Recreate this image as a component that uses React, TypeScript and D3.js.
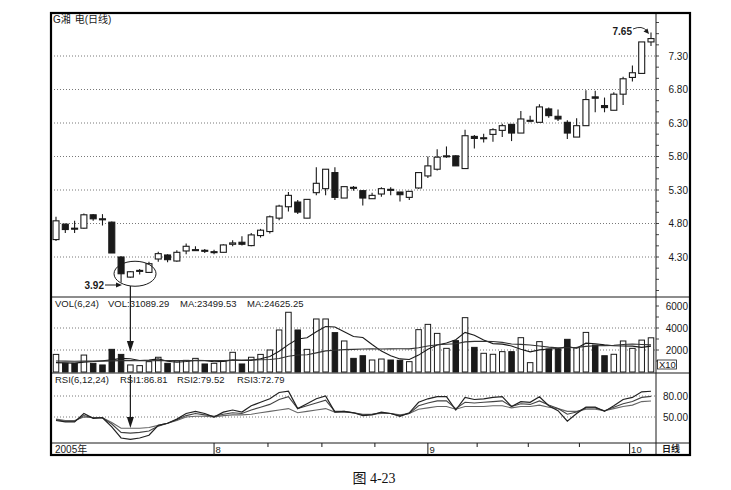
import * as d3 from "d3";

// daily candles, G湘电, Jul - Oct 2005
const OPEN = [4.56,4.79,4.73,4.73,4.93,4.87,4.82,4.30,4.00,4.09,4.07,4.27,4.33,4.24,4.39,4.40,4.40,4.37,4.37,4.49,4.52,4.47,4.62,4.68,4.88,5.05,5.12,4.88,5.26,5.32,5.56,5.18,5.34,5.29,5.17,5.24,5.31,5.27,5.19,5.33,5.51,5.61,5.80,5.81,5.62,6.10,6.07,6.13,6.19,6.28,6.15,6.33,6.31,6.51,6.40,6.31,6.09,6.26,6.69,6.56,6.49,6.73,6.98,7.04,7.51];
const HIGH = [4.90,4.80,4.84,4.95,4.94,4.94,4.83,4.31,4.09,4.12,4.23,4.38,4.34,4.40,4.50,4.46,4.42,4.41,4.49,4.55,4.61,4.66,4.72,4.92,5.08,5.27,5.15,5.16,5.64,5.61,5.64,5.35,5.36,5.30,5.26,5.34,5.34,5.27,5.28,5.57,5.80,5.91,5.95,5.82,6.20,6.12,6.14,6.22,6.29,6.28,6.48,6.41,6.58,6.53,6.50,6.34,6.37,6.79,6.78,6.68,6.76,6.99,7.16,7.51,7.65];
const LOW = [4.54,4.66,4.66,4.72,4.84,4.77,4.36,3.92,3.99,4.04,4.06,4.23,4.22,4.23,4.34,4.40,4.36,4.34,4.37,4.46,4.47,4.46,4.59,4.65,4.85,4.98,4.94,4.88,5.22,5.22,5.15,5.18,5.29,5.07,5.17,5.20,5.22,5.13,5.15,5.32,5.48,5.59,5.78,5.66,5.62,5.92,6.01,6.02,6.09,6.03,6.15,6.31,6.31,6.38,6.33,6.06,6.09,6.26,6.46,6.46,6.49,6.57,6.92,7.04,7.45];
const CLOSE = [4.84,4.71,4.72,4.93,4.87,4.86,4.36,4.05,4.08,4.10,4.20,4.35,4.26,4.37,4.46,4.41,4.39,4.38,4.48,4.51,4.49,4.63,4.70,4.90,5.06,5.22,4.97,5.16,5.40,5.61,5.19,5.35,5.33,5.18,5.22,5.32,5.30,5.23,5.28,5.56,5.66,5.79,5.81,5.66,6.11,6.07,6.08,6.20,6.26,6.15,6.36,6.34,6.54,6.41,6.36,6.15,6.26,6.65,6.67,6.53,6.73,6.96,7.05,7.51,7.56];

// volume (axis units, x10)
const VOLUME = [1600,790,790,1540,790,640,2060,1600,640,580,940,1340,790,1000,1060,1240,730,790,1000,1790,730,1340,1600,2000,3820,5430,3820,2060,4820,4820,3580,2820,1240,1480,1090,1180,1090,1060,940,3850,4330,3510,2150,2850,4940,2240,1700,1610,1850,1850,3120,850,2760,2090,2090,2970,2210,3600,2450,1480,1610,2820,2150,2900,3110];
const VOL_MA6 = [850,830,810,900,950,1025,1100,1240,1210,1050,1080,1190,980,880,950,1060,1030,935,970,1100,1050,1060,1210,1410,1880,2490,3000,3120,3660,4130,4090,3650,3220,3130,2500,1900,1480,1190,1140,1535,2075,2460,2640,2940,3600,3340,2900,2580,2530,2365,2060,1830,2010,2090,2130,2310,2160,2620,2570,2470,2390,2360,2350,2235,2350];
const VOL_MA24 = [1000,990,980,990,990,985,1010,1030,1030,1025,1020,1030,1030,1030,1035,1040,1040,1045,1050,1070,1080,1100,1120,1140,1230,1430,1550,1575,1740,1920,1980,2030,2060,2090,2100,2090,2105,2110,2100,2210,2360,2475,2520,2570,2740,2780,2785,2770,2690,2540,2510,2460,2370,2260,2195,2200,2240,2330,2390,2400,2420,2495,2545,2505,2463];

// RSI(6,12,24)
const RSI1 = [45,43,43,55,48,49,36,20,18,20,24,38,41,47,55,58,55,50,57,60,57,66,71,76,85,87,62,69,76,80,57,58,56,52,53,57,55,51,56,71,76,79,79,60,78,75,76,78,79,65,72,71,79,66,59,44,55,64,64,58,66,75,78,86,86.81];
const RSI2 = [46,44,44,52,49,49,40,28,27,28,30,37,41,46,52,55,53,51,54,56,55,60,64,68,75,79,62,66,70,74,58,58,56,53,54,56,55,52,55,66,70,73,73,62,71,70,71,72,73,65,69,68,73,67,62,54,57,63,63,59,64,69,72,78,79.52];
const RSI3 = [47,45,45,50,49,49,42,34,34,34,35,38,41,45,50,51,51,50,52,53,53,54,56,58,60,62,56,58,60,62,57,57,56,54,54,55,55,53,55,61,63,65,65,61,65,65,65,66,66,63,65,65,67,64,62,58,58,61,61,59,62,65,67,72,72.79];

const PRICE_TICKS = [7.3, 6.8, 6.3, 5.8, 5.3, 4.8, 4.3];
const VOL_TICKS = [6000, 4000, 2000];
const RSI_TICKS = [80, 50];
const MONTH_INDEX = [17, 40, 61.7];
const MONTH_LABELS = ["8", "9", "10"];
const WEEK_TICKS = [22.8, 28.6, 34.3, 45.3, 50.8, 56.3];

const W = 731, H = 490;
const L = 51, R = 690, T = 13, B = 455, AX = 656;
const P_BOT = 297, V_BOT = 373, R_BOT = 443;
const FONT = "'Liberation Sans', Arial, 'Noto Sans CJK SC', sans-serif";
const INK = "#1a1a1a";

export default function App() {
  const n = CLOSE.length;
  const x = d3.scaleLinear().domain([0, n - 1]).range([56, 651]);
  const yP = d3.scaleLinear().domain([4.3, 7.3]).range([257, 56]);
  const yV = d3.scaleLinear().domain([0, 6000]).range([372, 306]);
  const yR = d3.scaleLinear().domain([50, 80]).range([417, 396]);

  const volLine = (arr: number[]) =>
    d3.line<number>().x((_, i) => x(i)).y((d) => yV(d))(arr) as string;
  const rsiLine = (arr: number[]) =>
    d3.line<number>().x((_, i) => x(i)).y((d) => yR(d))(arr) as string;

  const minorPrice = d3.range(-3, 22).map((k) => 4.3 + (k * 0.5) / 3).filter((p) => yP(p) > T + 4 && yP(p) < P_BOT - 2);
  const minorVol = d3.range(1000, 7000, 1000).filter((v) => yV(v) > P_BOT + 3);

  const bw = 6;
  const vbw = 5.5;

  return (
    <svg width={W} height={H} style={{ position: "absolute", left: 0, top: 0, background: "#fff" }} fontFamily={FONT}>
      <rect x={0} y={0} width={W} height={H} fill="#fff" />

      {/* grid */}
      {PRICE_TICKS.map((p) => (
        <line key={p} x1={L} x2={AX} y1={yP(p)} y2={yP(p)} stroke="#555" strokeWidth={0.8} strokeDasharray="1,2" />
      ))}
      {[4000, 2000].map((v) => (
        <line key={v} x1={L} x2={AX} y1={yV(v)} y2={yV(v)} stroke="#555" strokeWidth={0.8} strokeDasharray="1,2" />
      ))}
      {RSI_TICKS.map((r) => (
        <line key={r} x1={L} x2={AX} y1={yR(r)} y2={yR(r)} stroke="#555" strokeWidth={0.8} strokeDasharray="1,2" />
      ))}

      {/* candles */}
      {CLOSE.map((c, i) => {
        const o = OPEN[i];
        const up = c >= o;
        const top = yP(Math.max(o, c));
        const h = Math.max(1, yP(Math.min(o, c)) - top);
        const cx = x(i);
        return (
          <g key={i}>
            <line x1={cx} x2={cx} y1={yP(HIGH[i])} y2={yP(LOW[i])} stroke={INK} strokeWidth={1.1} />
            <rect x={cx - bw / 2} y={top} width={bw} height={h} fill={up ? "#fff" : INK} stroke={INK} strokeWidth={1.1} />
          </g>
        );
      })}

      {/* volume */}
      {VOLUME.map((v, i) => {
        const up = CLOSE[i] >= OPEN[i];
        return (
          <rect key={i} x={x(i) - vbw / 2} y={yV(v)} width={vbw} height={yV(0) - yV(v)} fill={up ? "#fff" : INK} stroke={INK} strokeWidth={1} />
        );
      })}
      <path d={volLine(VOL_MA6)} fill="none" stroke={INK} strokeWidth={1.1} />
      <path d={volLine(VOL_MA24)} fill="none" stroke="#333" strokeWidth={1.1} />

      {/* RSI */}
      <path d={rsiLine(RSI3)} fill="none" stroke="#666" strokeWidth={1.1} />
      <path d={rsiLine(RSI2)} fill="none" stroke="#444" strokeWidth={1.1} />
      <path d={rsiLine(RSI1)} fill="none" stroke="#222" strokeWidth={1.2} />

      {/* panel separators and frame */}
      <line x1={L} x2={R} y1={P_BOT} y2={P_BOT} stroke={INK} strokeWidth={1} />
      <line x1={L} x2={R} y1={V_BOT} y2={V_BOT} stroke={INK} strokeWidth={1} />
      <line x1={L} x2={R} y1={R_BOT} y2={R_BOT} stroke={INK} strokeWidth={1} />
      <line x1={AX} x2={AX} y1={T} y2={B} stroke={INK} strokeWidth={1} />
      <rect x={L} y={T} width={R - L} height={B - T} fill="none" stroke="#000" strokeWidth={2.2} />

      {/* right axis */}
      {minorPrice.map((p, k) => (
        <line key={k} x1={AX} x2={AX + 3} y1={yP(p)} y2={yP(p)} stroke={INK} strokeWidth={0.8} />
      ))}
      {PRICE_TICKS.map((p) => (
        <text key={p} x={688} y={yP(p) + 3.5} fontSize={10} textAnchor="end" fill={INK}>{p.toFixed(2)}</text>
      ))}
      {minorVol.map((v) => (
        <line key={v} x1={AX} x2={AX + 3} y1={yV(v)} y2={yV(v)} stroke={INK} strokeWidth={0.8} />
      ))}
      {VOL_TICKS.map((v) => (
        <text key={v} x={688} y={yV(v) + 3.5} fontSize={10} textAnchor="end" fill={INK}>{v}</text>
      ))}
      <rect x={657.5} y={360} width={19} height={9} fill="#fff" stroke={INK} strokeWidth={0.8} />
      <text x={659} y={368} fontSize={9.5} fill={INK}>X10</text>
      {RSI_TICKS.map((r) => (
        <text key={r} x={688} y={yR(r) + 3.5} fontSize={10} textAnchor="end" fill={INK}>{r.toFixed(2)}</text>
      ))}
      <text x={662} y={452} fontSize={9} fontWeight={700} fill={INK}>日线</text>

      {/* date strip */}
      {MONTH_INDEX.map((mi, k) => (
        <g key={k}>
          <line x1={x(mi)} x2={x(mi)} y1={R_BOT} y2={B} stroke={INK} strokeWidth={1} />
          <text x={x(mi) + 1.5} y={453} fontSize={9.5} fill={INK}>{MONTH_LABELS[k]}</text>
        </g>
      ))}
      {WEEK_TICKS.map((wi) => (
        <line key={wi} x1={x(wi)} x2={x(wi)} y1={R_BOT} y2={R_BOT + 4} stroke={INK} strokeWidth={1} />
      ))}
      <text x={55} y={453} fontSize={10} fill={INK}>2005年</text>

      {/* headers */}
      <text x={53} y={23} fontSize={10} fill={INK}>G湘<tspan dx={4}>电(日线)</tspan></text>
      <text y={307} fontSize={9.5} fill={INK}>
        <tspan x={55}>VOL(6,24)</tspan>
        <tspan x={108}>VOL:31089.29</tspan>
        <tspan x={180}>MA:23499.53</tspan>
        <tspan x={247}>MA:24625.25</tspan>
      </text>
      <text y={383} fontSize={9.5} fill={INK}>
        <tspan x={55}>RSI(6,12,24)</tspan>
        <tspan x={120}>RSI1:86.81</tspan>
        <tspan x={177}>RSI2:79.52</tspan>
        <tspan x={237}>RSI3:72.79</tspan>
      </text>

      {/* annotations */}
      <ellipse cx={x(8.5)} cy={yP(4.05)} rx={21} ry={12.5} fill="none" stroke={INK} strokeWidth={1} />
      <text x={104} y={288.5} fontSize={10} fontWeight={700} textAnchor="end" fill={INK}>3.92</text>
      <line x1={105} x2={118} y1={285} y2={285} stroke={INK} strokeWidth={1} />
      <path d="M122,285 L116,282.5 L116,287.5 Z" fill={INK} />

      <line x1={x(8)} x2={x(8)} y1={286} y2={342} stroke={INK} strokeWidth={1.2} />
      <path d={`M${x(8)},352 L${x(8) - 3.5},341 L${x(8) + 3.5},341 Z`} fill={INK} />
      <line x1={x(8)} x2={x(8)} y1={375} y2={418} stroke={INK} strokeWidth={1.2} />
      <path d={`M${x(8)},428 L${x(8) - 3.5},417 L${x(8) + 3.5},417 Z`} fill={INK} />

      <text x={632} y={35} fontSize={10} fontWeight={700} textAnchor="end" fill={INK}>7.65</text>
      <path d="M633,29 Q642,25 647,31" fill="none" stroke={INK} strokeWidth={0.9} />
      <path d="M649,34 L643.5,31.5 L647.5,28.5 Z" fill={INK} />

      {/* caption */}
      <text x={374} y={483} fontSize={14} textAnchor="middle" fill="#111" fontFamily="'Liberation Serif', 'Noto Sans CJK SC', serif">图 4-23</text>
    </svg>
  );
}
